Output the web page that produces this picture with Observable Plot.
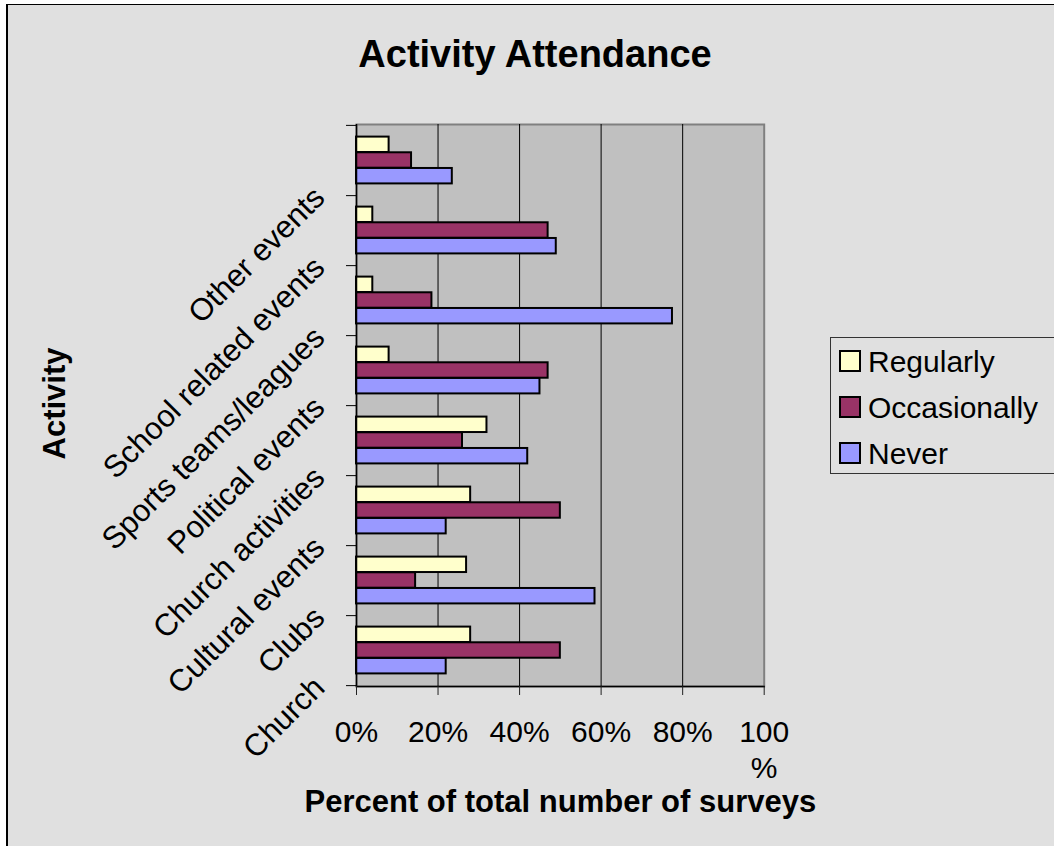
<!DOCTYPE html>
<html>
<head>
<meta charset="utf-8">
<script src="https://cdn.jsdelivr.net/npm/d3@7"></script>
<script src="https://cdn.jsdelivr.net/npm/@observablehq/plot@0.6"></script>
<style>
  body { margin: 0; background: #fff; }
  #chart { position: relative; width: 1054px; height: 846px; overflow: hidden; background: #fff;
           font-family: "Liberation Sans", Arial, sans-serif; color: #000; }
  #area { position: absolute; left: 6px; top: 4px; right: 0; bottom: 0; background: #e0e0e0;
          border-left: 2px solid #000; border-top: 1px solid #000; }
  #title { position: absolute; left: 0; width: 1070px; top: 35px; text-align: center;
           font-size: 38px; line-height: 38px; font-weight: bold; }
  #chart svg { position: absolute; left: 0; top: 0; }
  #legend { position: absolute; left: 830px; top: 337px; width: 240px; height: 135px;
            border: 1px solid #333; background: #e0e0e0; }
  #legend .sw { position: absolute; left: 8px; width: 18px; height: 18px; border: 2px solid #000; }
  #legend .lb { position: absolute; left: 37px; font-size: 30px; line-height: 30px; white-space: nowrap; }
</style>
</head>
<body>
<div id="chart">
  <div id="area"></div>
  <div id="title">Activity Attendance</div>
</div>
<script>
// Activities, listed from the bottom of the chart to the top
const activities = ["Church", "Clubs", "Cultural events", "Church activities",
  "Political events", "Sports teams/leagues", "School related events", "Other events"];
const series = ["Regularly", "Occasionally", "Never"];
// Percent of surveys for each attendance level, in the order of `activities`
const regularly    = [28, 27,   28, 32,  8,  4,    4,  8];
const occasionally = [50, 14.5, 50, 26, 47, 18.5, 47, 13.5];
const never        = [22, 58.5, 22, 42, 45, 77.5, 49, 23.5];
const xTicks = [0, 20, 40, 60, 80, 100];
const colors = ["#ffffcc", "#993366", "#9999ff"];

const table = activities.map((activity, i) => ({
  activity,
  Regularly: regularly[i],
  Occasionally: occasionally[i],
  Never: never[i]
}));

const width = 1054, height = 846;
const marginTop = 124, marginBottom = 160, marginLeft = 356, marginRight = 290.3;
const bw = (height - marginTop - marginBottom) / activities.length; // band per activity
const groupPad = bw * 0.165;
const barH = (bw - 2 * groupPad) / series.length;
const font = '"Liberation Sans", Arial, sans-serif';

const barMarks = series.map((s, k) =>
  Plot.barX(table, {
    y: "activity",
    x: s,
    fill: colors[k],
    stroke: "#000",
    strokeWidth: 2,
    insetTop: groupPad + k * barH,
    insetBottom: bw - groupPad - (k + 1) * barH
  })
);

const chart = Plot.plot({
  width, height, marginTop, marginBottom, marginLeft, marginRight,
  style: { background: "transparent", fontFamily: font, overflow: "visible", color: "#000" },
  x: { domain: [0, 100] },
  y: { domain: activities.slice().reverse(), padding: 0 },
  marks: [
    Plot.frame({ fill: "#c0c0c0", stroke: "#808080", strokeWidth: 2 }),
    Plot.gridX({ ticks: xTicks.slice(1, -1), stroke: "#000", strokeOpacity: 1, strokeWidth: 1 }),
    ...barMarks,
    Plot.ruleX([0], { stroke: "#000", strokeWidth: 1.5 }),
    Plot.frame({ anchor: "bottom", stroke: "#000", strokeWidth: 1.5 }),
    Plot.axisX({ ticks: xTicks, tickSize: 9, tickFormat: () => "", label: null, stroke: "#222" }),
    Plot.axisY({ tickSize: 10, tickFormat: () => "", label: null, dy: bw / 2, stroke: "#000" }),
    Plot.axisY({ ticks: [activities[activities.length - 1]], tickSize: 10, tickFormat: () => "",
                 label: null, dy: -bw / 2, stroke: "#000" }),
    // category labels, slanted
    Plot.text(activities, {
      y: d => d, text: d => d, frameAnchor: "left", rotate: -45,
      textAnchor: "end", lineAnchor: "middle", dx: -37, dy: 32, fontSize: 31, fill: "#000"
    }),
    // percent tick labels
    Plot.text(xTicks, {
      x: d => d, text: d => d === 100 ? "100\n%" : `${d}%`, frameAnchor: "bottom",
      lineAnchor: "top", lineHeight: 1.18, dy: 30.5, fontSize: 30, fill: "#000"
    }),
    Plot.text(["Activity"], {
      frameAnchor: "left", textAnchor: "middle", lineAnchor: "middle", rotate: -90, dx: -301, dy: -2,
      fontSize: 31, fontWeight: "bold", fill: "#000"
    }),
    Plot.text(["Percent of total number of surveys"], {
      frameAnchor: "bottom", textAnchor: "middle", lineAnchor: "middle", dy: 116,
      fontSize: 31, fontWeight: "bold", fill: "#000"
    })
  ]
});

const root = document.getElementById("chart");
root.appendChild(chart);

// legend
const legend = document.createElement("div");
legend.id = "legend";
series.forEach((s, k) => {
  const sw = document.createElement("div");
  sw.className = "sw";
  sw.style.top = `${12 + 46 * k}px`;
  sw.style.background = colors[k];
  legend.appendChild(sw);
  const lb = document.createElement("div");
  lb.className = "lb";
  lb.style.top = `${9 + 46 * k}px`;
  lb.textContent = s;
  legend.appendChild(lb);
});
root.appendChild(legend);
</script>
</body>
</html>
